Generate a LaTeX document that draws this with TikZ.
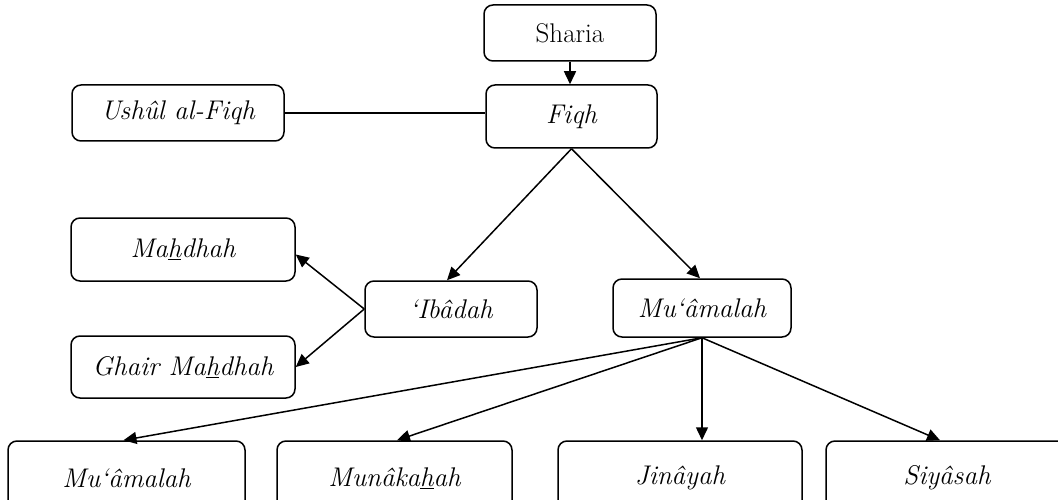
\documentclass[tikz,border=0pt]{standalone}
\usepackage{fontspec}
\usetikzlibrary{arrows.meta}
\begin{document}
\begin{tikzpicture}[x=1pt,y=-1pt,
  box/.style={draw,line width=1.5pt,rounded corners=9pt,inner sep=0pt,font=\fontsize{27}{31}\selectfont\itshape},
  conn/.style={line width=1.5pt,-{Triangle[length=13pt,width=12pt]}},
  plain/.style={line width=1.5pt}]
\useasboundingbox (0,0) rectangle (1058,500);
\clip (0,0) rectangle (1058,500);
\node[box,minimum width=172pt,minimum height=56pt,font=\fontsize{27}{31}\selectfont\upshape] (sharia) at (570,33) {Sharia};
\node[box,minimum width=171pt,minimum height=63pt] (fiqh) at (571.5,116.5) {Fiqh};
\node[box,minimum width=212pt,minimum height=56pt] (ushul) at (178,113) {Ushûl al-Fiqh};
\node[box,minimum width=224pt,minimum height=63pt] (mahdhah) at (183,249.5) {Ma\underline{h}dhah};
\node[box,minimum width=224pt,minimum height=62pt] (ghair) at (183,367) {Ghair Ma\underline{h}dhah};
\node[box,minimum width=172pt,minimum height=56pt] (ibadah) at (451,309) {‘Ibâdah};
\node[box,minimum width=178pt,minimum height=58pt] (muamalah) at (702,308) {Mu‘âmalah};
\node[box,minimum width=237pt,minimum height=74pt] (b1) at (126.5,478) {Mu‘âmalah};
\node[box,minimum width=235pt,minimum height=74pt] (b2) at (394.5,478) {Munâka\underline{h}ah};
\node[box,minimum width=244pt,minimum height=74pt] (b3) at (680,478) {Jinâyah};
\node[box,minimum width=242pt,minimum height=74pt] (b4) at (947,478) {Siyâsah};
\draw[conn] (sharia.south) -- (sharia.south |- fiqh.north);
\draw[plain] (ushul.east) -- (ushul.east -| fiqh.west);
\draw[conn] (fiqh.south) -- ([xshift=-4pt]ibadah.north);
\draw[conn] (fiqh.south) -- ([xshift=-2pt]muamalah.north);
\draw[conn] (ibadah.west) -- ([yshift=-5pt]mahdhah.east);
\draw[conn] (ibadah.west) -- (ghair.east);
\draw[conn] (muamalah.south) -- ([xshift=-3pt]b1.north);
\draw[conn] (muamalah.south) -- ([xshift=2.5pt]b2.north);
\draw[conn] (muamalah.south) -- (muamalah.south |- b3.north);
\draw[conn] (muamalah.south) -- ([xshift=-7pt]b4.north);
\end{tikzpicture}
\end{document}
